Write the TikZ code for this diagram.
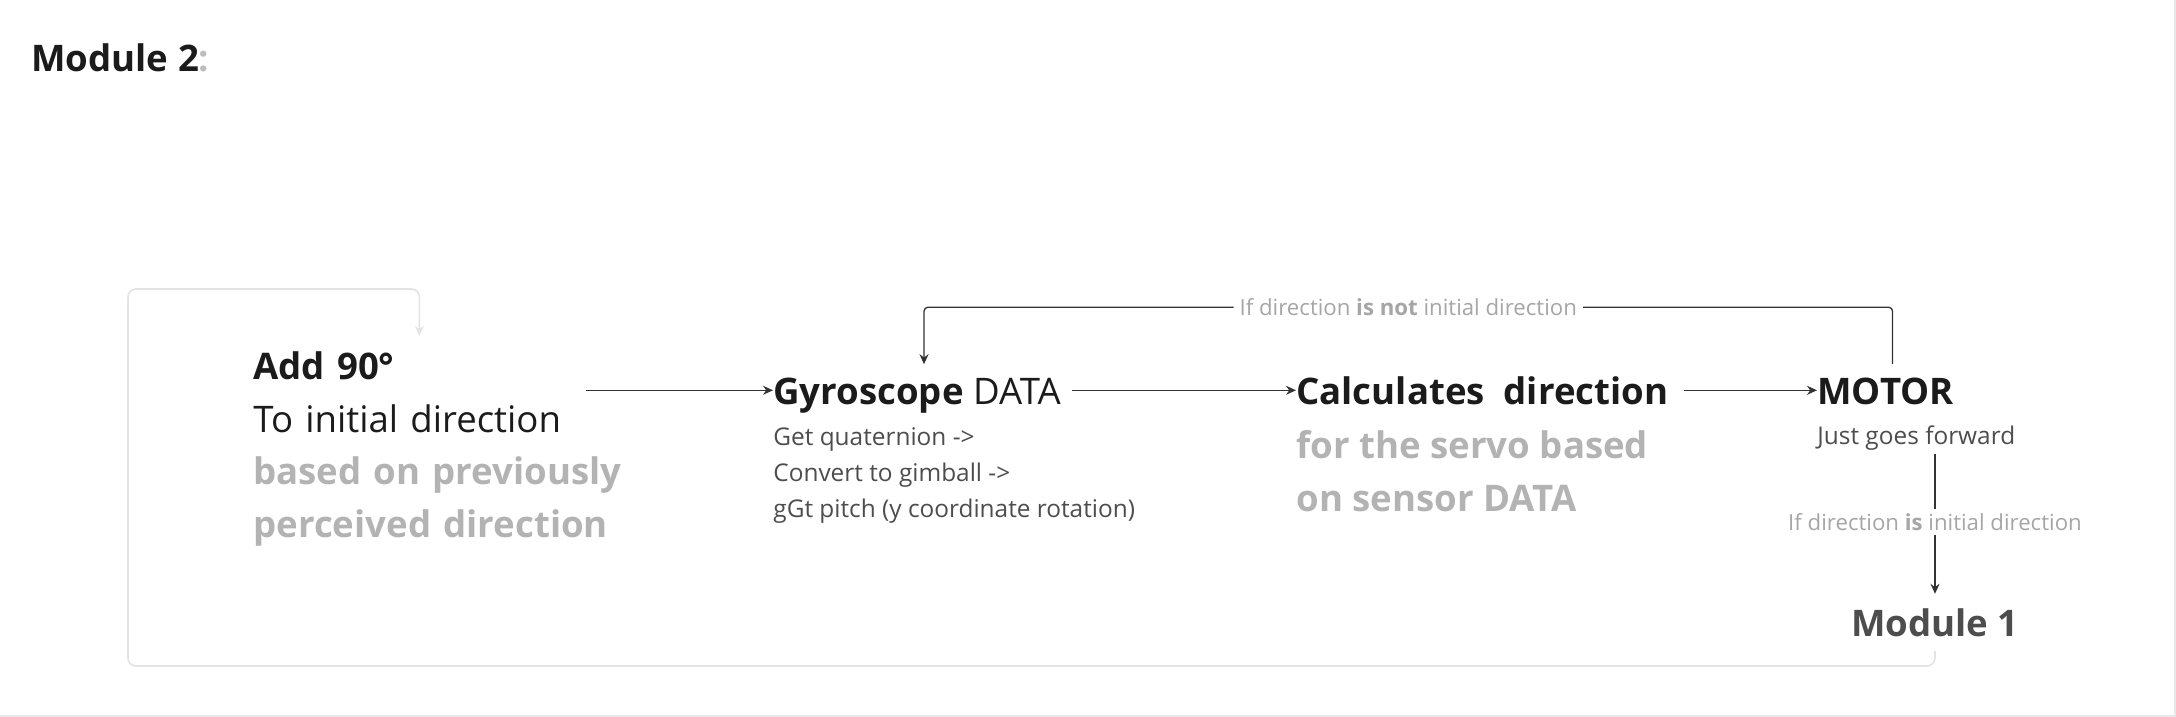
\documentclass[tikz,border=0pt]{standalone}
\usepackage{fontspec}
\setmainfont{Open Sans}
\usepackage{xcolor}
\usetikzlibrary{arrows.meta,positioning}

\definecolor{ink}{HTML}{1B1B1B}
\definecolor{colongrey}{HTML}{BDBDBD}
\definecolor{fadedtext}{HTML}{B3B3B3}
\definecolor{subtext}{HTML}{4D4D4D}
\definecolor{edgetext}{HTML}{A6A6A6}
\definecolor{wire}{HTML}{333333}
\definecolor{faintwire}{HTML}{E3E3E3}
\definecolor{pageedge}{HTML}{E8E8E8}

\newcommand{\boxheadfont}{\fontsize{18.3}{26.5}\selectfont}
\newcommand{\boxnotefont}{\fontsize{12.2}{18}\selectfont}
\newcommand{\edgelabelfont}{\fontsize{11.1}{14}\selectfont}

\begin{document}
\begin{tikzpicture}[x=0.5pt, y=-0.5pt,
    head/.style={anchor=base west, inner xsep=0pt, inner ysep=6pt, text height=13.7pt, text depth=0pt, font=\boxheadfont, text=ink},
    note/.style={anchor=base west, inner sep=0pt, align=left, font=\boxnotefont, text=subtext},
    faded/.style={anchor=base west, inner sep=0pt, align=left, font=\boxheadfont\bfseries, text=fadedtext},
    arr/.style={draw=wire, line width=0.65pt, -{Stealth[length=5pt, width=4.5pt]}},
    cond/.style={fill=white, inner xsep=3pt, inner ysep=2pt, font=\edgelabelfont, text=edgetext}]
    \useasboundingbox (0,0) rectangle (2176,717);
    \draw[draw=pageedge, line width=0.8pt] (0,716) -| (2175,0);

    % Nodes
    \node[anchor=base west, inner sep=0pt, font=\boxheadfont\bfseries, text=ink] (title) at (31,72) {Module 2\textcolor{colongrey}{:}};
    \node[anchor=base west, align=left, text width=166pt, inner xsep=0pt, inner ysep=7.5pt, font=\boxheadfont, text=ink] (add) at (253,379)
        {\textbf{Add 90°}\\\mbox{To initial direction}\\\mbox{\textbf{\color{fadedtext}based on previously}}\\\mbox{\textbf{\color{fadedtext}perceived direction}}};
    \node[head] (gyro) at (773,404) {\textbf{Gyroscope} DATA};
    % multi-line notes sit on their last line
    \node[note] (gyrosub) at ([yshift=-56.5pt]gyro.base west) {Get quaternion ->\\Convert to gimball ->\\gGt pitch (y coordinate rotation)};
    \node[head] (calc) at (1296,404) {\textbf{Calculates\ \ direction}};
    \node[faded] (calcsub) at ([yshift=-53.5pt]calc.base west) {for the servo based\\on sensor DATA};
    \node[head] (motor) at (1817,404) {\textbf{MOTOR}};
    \node[note] (motorsub) at ([yshift=-20pt]motor.base west) {Just goes forward};
    \node[anchor=base, inner xsep=0pt, inner ysep=7pt, font=\boxheadfont\bfseries, text=subtext] (module1) at (1935,636) {Module 1};
    \coordinate (loopsw) at (128,666);
    \coordinate (loopnw) at (128,289);

    % Arrows
    \draw[arr] (add.east |- gyro.west) -- (gyro.west);
    \draw[arr, shorten <=5.5pt] (gyro.east) -- (calc.west);
    \draw[arr, shorten <=7.5pt] (calc.east) -- (motor.west);
    \draw[arr, rounded corners=2pt] ([xshift=3.5pt]motor.north) -- ++(0,-57) -| node[cond, pos=0.25] {If direction \textbf{is not} initial direction} ([xshift=3.5pt]gyro.north);
    \draw[arr, shorten <=2pt] (motorsub.south -| module1.north) -- node[cond] {If direction \textbf{is} initial direction} (module1.north);
    \draw[draw=faintwire, line width=0.8pt, -{Stealth[length=5pt, width=4.5pt]}, rounded corners=4pt] (module1.south) |- (loopsw) -- (loopnw) -| (add.north);
\end{tikzpicture}
\end{document}
